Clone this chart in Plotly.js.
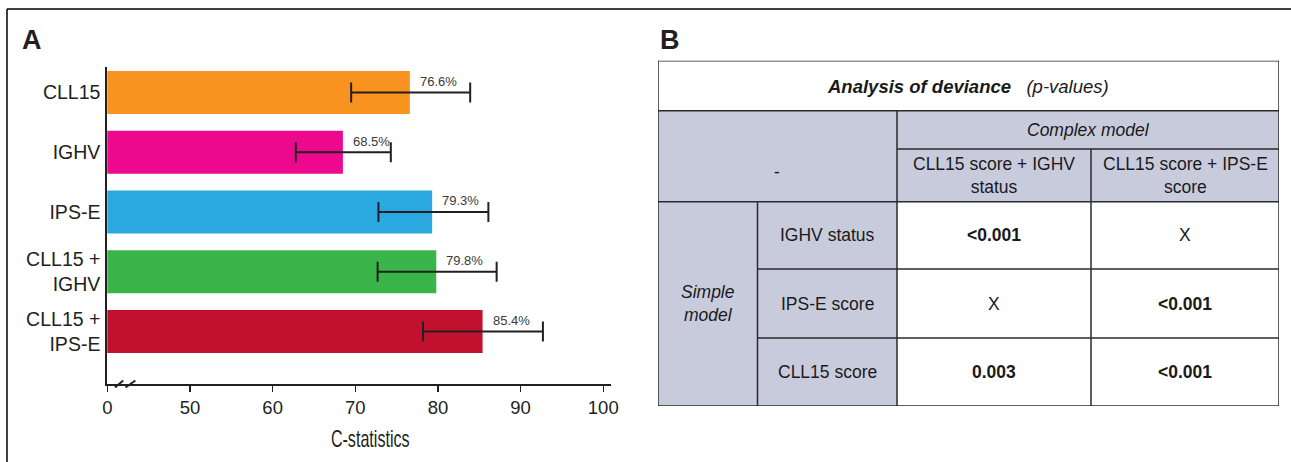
<!DOCTYPE html>
<html>
<head>
<meta charset="utf-8">
<script src="https://cdn.plot.ly/plotly-3.0.1.min.js"></script>
<style>
  html, body { margin: 0; padding: 0; background: #ffffff; }
  #chart { width: 1291px; height: 462px; }
  .narrow-title { transform-box: fill-box; transform-origin: center; transform: scaleX(0.7); }
</style>
</head>
<body>
<div id="chart"></div>
<script>
// ---------- Data: panel A ----------
var models = ['CLL15', 'IGHV', 'IPS-E', 'CLL15 +<br>IGHV', 'CLL15 +<br>IPS-E'];
var cStat = [76.6, 68.5, 79.3, 79.8, 85.4];
var ciLow = [69.5, 62.8, 72.8, 72.7, 78.2];
var ciHigh = [83.9, 74.3, 86.1, 87.1, 92.7];
var valueLabels = ['76.6%', '68.5%', '79.3%', '79.8%', '85.4%'];
var barColors = ['#F7931E', '#EC098D', '#29A9E0', '#39B54A', '#C1112E'];
var tickVals = [40, 50, 60, 70, 80, 90, 100];
var tickText = ['0', '50', '60', '70', '80', '90', '100'];
var xTitle = 'C-statistics';

// ---------- Data: panel B ----------
var tableTitle = '<b><i>Analysis of deviance</i></b>&nbsp;&nbsp;&nbsp;<i>(p-values)</i>';
var complexHeader = 'Complex model';
var complexModels = ['CLL15 score + IGHV<br>status', 'CLL15 score + IPS-E<br>score'];
var simpleHeader = 'Simple<br>model';
var simpleModels = ['IGHV status', 'IPS-E score', 'CLL15 score'];
var pValues = [['&lt;0.001', 'X'], ['X', '&lt;0.001'], ['0.003', '&lt;0.001']];

// ---------- Layout geometry (pixels) ----------
var W = 1291, H = 462;
var FONT = 'Liberation Sans, Arial, Helvetica, sans-serif';
var INK = '#231f20';

function px(x) { return x / W; }
function py(y) { return 1 - y / H; }

// table grid, in table-local pixel units
var colEdges = [0, 99.5, 239, 433, 621];
var rowEdges = [0, 50, 88.3, 141, 208.3, 277.3, 345.3];
var tableLeft = 658, tableTop = 60.7;
var tableW = colEdges[colEdges.length - 1], tableH = rowEdges[rowEdges.length - 1];

var errPlus = cStat.map(function (v, i) { return ciHigh[i] - v; });
var errMinus = cStat.map(function (v, i) { return v - ciLow[i]; });

var traces = [{
  type: 'bar',
  orientation: 'h',
  x: cStat,
  y: models,
  marker: { color: barColors, line: { width: 0 } },
  error_x: {
    type: 'data', symmetric: false,
    array: errPlus, arrayminus: errMinus,
    color: INK, thickness: 2, width: 10
  },
  hoverinfo: 'none',
  xaxis: 'x', yaxis: 'y'
}, {
  // invisible trace to instantiate the table axes
  type: 'scatter', mode: 'markers',
  x: [0], y: [0], marker: { opacity: 0 },
  hoverinfo: 'none',
  xaxis: 'x2', yaxis: 'y2'
}];

var shapes = [];
var annotations = [];

// outer figure frame
shapes.push({ type: 'line', xref: 'paper', yref: 'paper', x0: px(7), y0: py(9), x1: 1, y1: py(9), line: { color: '#000', width: 1.5 } });
shapes.push({ type: 'line', xref: 'paper', yref: 'paper', x0: px(7), y0: py(9), x1: px(7), y1: 0, line: { color: '#000', width: 1.5 } });

// axis break marks
[[40.93, 41.93], [42.2, 43.4]].forEach(function (b) {
  shapes.push({ type: 'line', xref: 'x', yref: 'y domain', x0: b[0], y0: -0.011, x1: b[1], y1: 0.011, line: { color: INK, width: 2 } });
});

// value labels
valueLabels.forEach(function (t, i) {
  annotations.push({
    xref: 'x', yref: 'y', x: cStat[i], y: models[i], text: t,
    showarrow: false, xanchor: 'left', yanchor: 'middle', xshift: 8, yshift: 11,
    font: { family: FONT, size: 13, color: '#3a3a3a' }
  });
});

// x axis title (condensed via CSS class)
annotations.push({ xref: 'paper', yref: 'paper', x: px(370), y: py(439), text: xTitle, showarrow: false,
  xanchor: 'center', yanchor: 'middle', font: { family: FONT, size: 23, color: INK } });

// panel letters
annotations.push({ xref: 'paper', yref: 'paper', x: px(32), y: py(40), text: '<b>A</b>', showarrow: false,
  xanchor: 'center', yanchor: 'middle', font: { family: FONT, size: 27, color: INK } });
annotations.push({ xref: 'paper', yref: 'paper', x: px(670), y: py(40), text: '<b>B</b>', showarrow: false,
  xanchor: 'center', yanchor: 'middle', font: { family: FONT, size: 27, color: INK } });

// ---------- table ----------
var FILL = '#C8CBDC';
var LINE = { color: '#2a2a2a', width: 1.5 };
var TF = 17.5;
function rect(x0, y0, x1, y1, fill) {
  shapes.push({ type: 'rect', xref: 'x2', yref: 'y2', x0: x0, y0: y0, x1: x1, y1: y1, fillcolor: fill, line: { width: 0 }, layer: 'below' });
}
function hline(y, x0, x1) {
  shapes.push({ type: 'line', xref: 'x2', yref: 'y2', x0: x0, y0: y, x1: x1, y1: y, line: LINE });
}
function vline(x, y0, y1) {
  shapes.push({ type: 'line', xref: 'x2', yref: 'y2', x0: x, y0: y0, x1: x, y1: y1, line: LINE });
}
function cellText(x, y, text, size, color) {
  annotations.push({ xref: 'x2', yref: 'y2', x: x, y: y, text: text, showarrow: false,
    xanchor: 'center', yanchor: 'middle', align: 'center',
    font: { family: FONT, size: size || TF, color: color || '#1a1a1a' } });
}
var c = colEdges, r = rowEdges;
// fills
rect(c[0], r[1], c[4], r[3], FILL);
rect(c[0], r[3], c[2], r[6], FILL);
// lines
hline(r[0], c[0], c[4]);
hline(r[1], c[0], c[4]);
hline(r[2], c[2], c[4]);
hline(r[3], c[0], c[4]);
hline(r[4], c[1], c[4]);
hline(r[5], c[1], c[4]);
hline(r[6], c[0], c[4]);
vline(c[0], r[0], r[6]);
vline(c[4], r[0], r[6]);
vline(c[1], r[3], r[6]);
vline(c[2], r[1], r[6]);
vline(c[3], r[2], r[6]);
// texts
cellText((c[0] + c[4]) / 2, (r[0] + r[1]) / 2 + 1, tableTitle, 18.5);
cellText((c[2] + c[4]) / 2, (r[1] + r[2]) / 2, '<i>' + complexHeader + '</i>', TF);
cellText((c[0] + c[2]) / 2, (r[1] + r[3]) / 2 + 16, '-', TF);
complexModels.forEach(function (t, j) {
  cellText((c[2 + j] + c[3 + j]) / 2, (r[2] + r[3]) / 2, t, TF);
});
cellText((c[0] + c[1]) / 2, (r[3] + r[6]) / 2, '<i>' + simpleHeader + '</i>', TF);
simpleModels.forEach(function (t, i) {
  cellText((c[1] + c[2]) / 2, (r[3 + i] + r[4 + i]) / 2, t, TF);
  pValues[i].forEach(function (v, j) {
    var txt = (v === 'X') ? v : '<b>' + v + '</b>';
    cellText((c[2 + j] + c[3 + j]) / 2, (r[3 + i] + r[4 + i]) / 2, txt, TF);
  });
});

var layout = {
  width: W, height: H,
  margin: { l: 0, r: 0, t: 0, b: 0 },
  paper_bgcolor: '#ffffff', plot_bgcolor: 'rgba(0,0,0,0)',
  showlegend: false,
  bargap: 0.28,
  font: { family: FONT, color: INK },
  xaxis: {
    domain: [px(107.3), px(610.7)],
    range: [40, 100.9],
    tickvals: tickVals, ticktext: tickText,
    ticks: 'outside', ticklen: 6, tickwidth: 1.5, tickcolor: INK,
    showline: true, linecolor: INK, linewidth: 2,
    showgrid: false, zeroline: false,
    tickfont: { family: FONT, size: 18.5, color: INK },
    anchor: 'y', fixedrange: true
  },
  yaxis: {
    domain: [py(384), py(67)],
    range: [4.88, -0.427],
    type: 'category',
    showline: true, linecolor: INK, linewidth: 2,
    ticks: '', showgrid: false, zeroline: false,
    tickfont: { family: FONT, size: 19.5, color: INK },
    ticklabelstandoff: 1,
    anchor: 'x', fixedrange: true
  },
  xaxis2: {
    domain: [px(tableLeft), px(tableLeft + tableW)],
    range: [0, tableW], visible: false, anchor: 'y2', fixedrange: true
  },
  yaxis2: {
    domain: [py(tableTop + tableH), py(tableTop)],
    range: [tableH, 0], visible: false, anchor: 'x2', fixedrange: true
  },
  shapes: shapes,
  annotations: annotations
};

Plotly.newPlot('chart', traces, layout, { staticPlot: true, displayModeBar: false }).then(function (gd) {
  var texts = gd.querySelectorAll('.annotation-text');
  texts.forEach(function (t) {
    if (t.textContent === xTitle) { t.classList.add('narrow-title'); }
  });
});
</script>
</body>
</html>
